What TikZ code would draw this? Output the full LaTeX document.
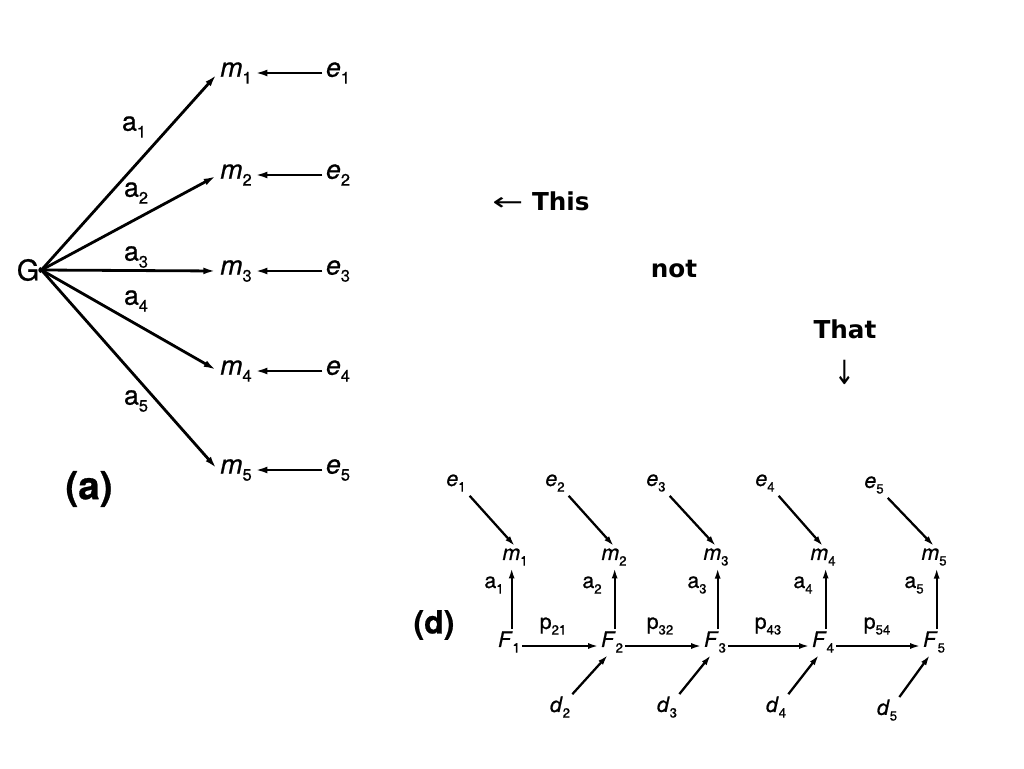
\documentclass[tikz,border=0pt]{standalone}
\usepackage{fontspec}
\setmainfont{TeX Gyre Heros}[FakeBold=0.7]
\newfontfamily\djv{DejaVu Sans}
\usetikzlibrary{arrows.meta}
\newcommand{\lo}[1]{\raisebox{-0.5ex}{\scalebox{0.62}{#1}}}
\begin{document}
\begin{tikzpicture}[x=0.75pt,y=-0.75pt,
  bigl/.style={inner sep=1.5pt,font=\fontsize{20}{22}\selectfont},
  smll/.style={inner sep=1.5pt,font=\fontsize{16}{18}\selectfont},
  msg/.style={inner sep=0pt,font=\djv\bfseries\fontsize{18.5}{20}\selectfont},
  big/.style={line width=2.1pt,-{Latex[length=10pt,width=5pt]}},
  sma/.style={line width=1.7pt,-{Latex[length=8pt,width=4.5pt]}}]
\useasboundingbox (0,0) rectangle (1024,768);
\fill[white] (0,0) rectangle (1024,768);
% ---- (a) ----
\node[bigl,font=\fontsize{21.5}{23}\selectfont] (G) at (28,270) {G};
\foreach \i/\y in {1/73,2/175,3/271,4/371,5/470}{
  \node[bigl] (m\i) at (236,\y) {\textit{m}\lo{\i}};
  \node[bigl] (e\i) at (338,\y) {\textit{e}\lo{\i}};
  \draw[big,shorten <=1pt] (e\i.west) -- (m\i.east);
  \draw[big,shorten <=-2pt,shorten >=1pt] (G.east) -- (m\i.west);
}
\node[bigl] (a1) at (134,127) {a\lo{1}};
\node[bigl] (a2) at (136,193) {a\lo{2}};
\node[bigl] (a3) at (136,257) {a\lo{3}};
\node[bigl] (a4) at (136,301) {a\lo{4}};
\node[bigl] (a5) at (136,401) {a\lo{5}};
\node[inner sep=0pt,font=\bfseries\fontsize{29}{32}\selectfont] (la) at (89,489) {(a)};
% ---- messages ----
\node[msg] (this) at (541,201) {{\djv\mdseries\scalebox{1.5}[1]{←}} This};
\node[msg] (not) at (674,269) {not};
\node[msg] (that) at (845,329) {That};
\node[inner sep=0pt,font=\djv\fontsize{18.5}{20}\selectfont] (down) at (845,372) {\scalebox{1}[1.35]{↓}};
% ---- (d) ----
\node[inner sep=0pt,font=\bfseries\fontsize{24}{27}\selectfont] (ld) at (434,625) {(d)};
\foreach \i/\ex/\ey/\mx/\fx/\ax in {1/456/483/515/509/494,2/555/483/614/612/592,3/656/483/716/715/697,4/765/483/823/823/803,5/874/485/934/934/914}{
  \node[smll] (re\i) at (\ex,\ey) {\textit{e}\lo{\i}};
  \node[smll] (rm\i) at (\mx,557) {\textit{m}\lo{\i}};
  \node[smll] (F\i) at (\fx,642) {\textit{F}\lo{\i}};
  \node[smll] (ra\i) at (\ax,585) {a\lo{\i}};
  \draw[sma,shorten <=2pt] (re\i.south east) -- (rm\i.north);
  \draw[sma] ([xshift=2pt]F\i.north) -- ([xshift=2pt]F\i.north |- rm\i.south);
}
\foreach \i/\x/\y in {2/560/707,3/667/707,4/776/707,5/887/710}{
  \node[smll] (d\i) at (\x,\y) {\textit{d}\lo{\i}};
  \draw[sma] (d\i.north east) -- ([xshift=-3pt]F\i.south);
}
\foreach \i/\j/\x in {1/2/553,2/3/660,3/4/768,4/5/877}{
  \node[smll] (p\j\i) at (\x,626) {p\lo{\j\i}};
  \draw[sma] ([yshift=-3pt]F\i.east) -- ([yshift=-3pt]F\j.west);
}
\end{tikzpicture}
\end{document}
